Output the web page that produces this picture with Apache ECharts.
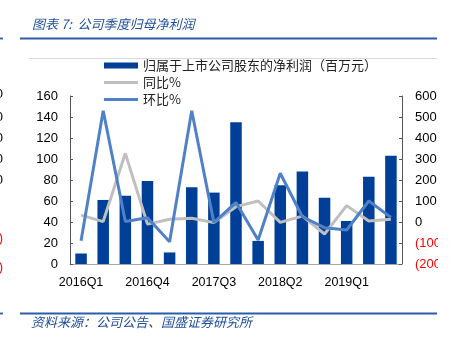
<!DOCTYPE html>
<html>
<head>
<meta charset="utf-8">
<script src="https://cdn.jsdelivr.net/npm/echarts@6/dist/echarts.min.js"></script>
<style>
html,body{margin:0;padding:0;background:#fff;}
#c{width:458px;height:339px;}
</style>
</head>
<body>
<div id="c"></div>
<script>
var categories = ['2016Q1','2016Q2','2016Q3','2016Q4','2017Q1','2017Q2','2017Q3','2017Q4','2018Q1','2018Q2','2018Q3','2018Q4','2019Q1','2019Q2','2019Q3'];
var netProfit = [10, 61, 65, 79, 11, 73, 68, 135, 22, 75, 88, 63, 41, 83, 103];
var yoyPct = [33, 2, 327, -10, 13, 18, -3, 73, 100, -2, 28, -57, 78, 5, 13];
var qoqPct = [-89, 530, 2, 20, -94, 530, -3, 93, -86, 232, 25, -27, -38, 100, 22];
var seriesNames = ['归属于上市公司股东的净利润（百万元）', '同比%', '环比%'];
var titleText = '图表 7:  公司季度归母净利润';
var sourceText = '资料来源：公司公告、国盛证券研究所';
var leftEdgeTicks = ['0','0','0','0','0'];

var BAR = '#003F98', GREY = '#BFBFBF', BLUE = '#4F81C7', INK = '#1F4E9C';
var LINE_ICON = 'path://M0,0H34V3H0Z';
var chart = echarts.init(document.getElementById('c'), null, {renderer:'canvas'});

var graphics = [
  {type:'text', x:32, y:24, style:{text:titleText, fill:INK, font:'italic 13px "Noto Sans CJK SC"', textVerticalAlign:'middle'}},
  {type:'line', shape:{x1:20, y1:38.5, x2:437, y2:38.5}, style:{stroke:'#2A5CAA', lineWidth:1.8}},
  {type:'line', shape:{x1:0, y1:38.5, x2:3, y2:38.5}, style:{stroke:'#2A5CAA', lineWidth:1.8}},
  {type:'line', shape:{x1:29, y1:58.5, x2:437, y2:58.5}, style:{stroke:'#D9D9D9', lineWidth:1}},
  {type:'line', shape:{x1:20, y1:313.5, x2:437, y2:313.5}, style:{stroke:'#2A5CAA', lineWidth:1.8}},
  {type:'line', shape:{x1:0, y1:313.5, x2:3, y2:313.5}, style:{stroke:'#2A5CAA', lineWidth:1.8}},
  {type:'text', x:31, y:322, style:{text:sourceText, fill:INK, font:'italic 13px "Noto Sans CJK SC"', textVerticalAlign:'middle'}},
  {type:'rect', z:100, shape:{x:438, y:0, width:20, height:339}, style:{fill:'#fff'}}
];
var fragY = [94, 117, 138, 159, 180];
fragY.forEach(function(y, i){
  graphics.push({type:'text', x:3, y:y, style:{text:leftEdgeTicks[i], fill:'#000', font:'13px "Liberation Sans"', textAlign:'right', textVerticalAlign:'middle'}});
});
[238, 267].forEach(function(y){
  graphics.push({type:'text', x:3, y:y, style:{text:')', fill:'#FF0000', font:'13px "Liberation Sans"', textAlign:'right', textVerticalAlign:'middle'}});
});

chart.setOption({
  animation:false,
  backgroundColor:'#fff',
  textStyle:{fontFamily:'"Liberation Sans", Arial, sans-serif'},
  grid:{left:70, right:56, top:96, bottom:75, containLabel:false},
  legend:{
    orient:'vertical', left:104, top:59, padding:0, itemGap:4,
    itemWidth:34, itemHeight:6, symbolKeepAspect:true,
    textStyle:{fontSize:13, color:'#222', fontFamily:'"Noto Sans CJK SC"'},
    data:[
      {name:seriesNames[0], icon:'rect'},
      {name:seriesNames[1], icon:LINE_ICON},
      {name:seriesNames[2], icon:LINE_ICON}
    ]
  },
  xAxis:{
    type:'category', data:categories,
    axisLine:{lineStyle:{color:'#A6A6A6', width:1}},
    axisTick:{inside:true, length:3, lineStyle:{color:'#555'}, interval:0},
    axisLabel:{interval:2, color:'#000', fontSize:12.5, margin:12}
  },
  yAxis:[
    {type:'value', min:0, max:160, interval:20,
     splitLine:{show:false},
     axisLine:{show:true, lineStyle:{color:'#555'}},
     axisTick:{show:true, inside:true, length:3, lineStyle:{color:'#555'}},
     axisLabel:{color:'#000', fontSize:13, margin:12}},
    {type:'value', min:-200, max:600, interval:100,
     splitLine:{show:false},
     axisLine:{show:true, lineStyle:{color:'#555'}},
     axisTick:{show:true, inside:true, length:3, lineStyle:{color:'#555'}},
     axisLabel:{fontSize:13, margin:13, color:'#000',
       formatter:function(v){ return v < 0 ? '{n|(' + (-v) + ')}' : String(v); },
       rich:{n:{color:'#FF0000', fontSize:13}}}}
  ],
  series:[
    {name:seriesNames[0], type:'bar', data:netProfit, barWidth:'52%', itemStyle:{color:BAR}},
    {name:seriesNames[1], type:'line', yAxisIndex:1, data:yoyPct, symbol:'none', lineStyle:{color:GREY, width:3}, itemStyle:{color:GREY}},
    {name:seriesNames[2], type:'line', yAxisIndex:1, data:qoqPct, symbol:'none', lineStyle:{color:BLUE, width:3}, itemStyle:{color:BLUE}}
  ],
  graphic:graphics
});
</script>
</body>
</html>
